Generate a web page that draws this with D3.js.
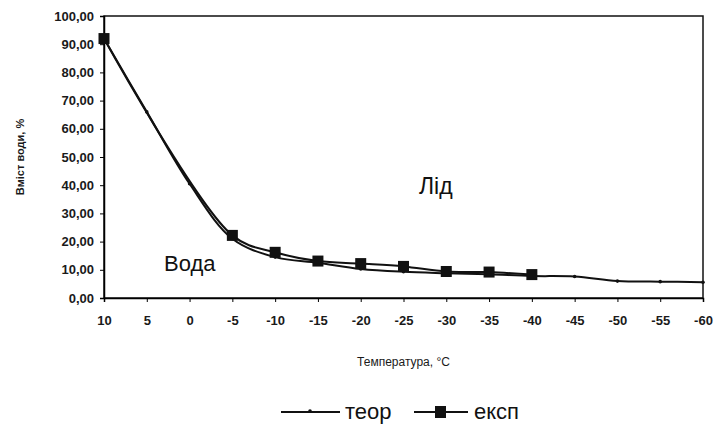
<!DOCTYPE html>
<html lang="uk">
<head>
  <meta charset="UTF-8">
  <title>Вміст води</title>
  <script src="https://d3js.org/d3.v7.min.js"></script>
  <style>
    body { margin: 0; background: #fff; }
    svg { display: block; font-family: "Liberation Sans", Arial, sans-serif; }
  </style>
</head>
<body>
<svg id="chart" width="718" height="430"></svg>
<script>
  // temperature categories on x axis
  const temps = [10, 5, 0, -5, -10, -15, -20, -25, -30, -35, -40, -45, -50, -55, -60];
  // теор (theoretical)
  const teor = [92, 66, 40.5, 21, 14.5, 12.5, 10.3, 9.3, 8.8, 8.4, 7.8, 7.6, 6.0, 5.8, 5.6];
  // експ (experimental), only measured at some temperatures
  const eksp = [92, null, null, 22.2, 16.2, 13.1, 12.2, 11.2, 9.4, 9.2, 8.3, null, null, null, null];
  const yTicks = [0, 10, 20, 30, 40, 50, 60, 70, 80, 90, 100];

  const width = 718, height = 430;
  const margin = {top: 16, right: 15, bottom: 132, left: 104};

  const svg = d3.select("#chart");

  const x = d3.scalePoint()
    .domain(temps)
    .range([margin.left, width - margin.right]);

  const y = d3.scaleLinear()
    .domain([0, 100])
    .range([height - margin.bottom, margin.top]);

  const fmt = d => d3.format(".2f")(d).replace(".", ",");

  // frame
  svg.append("rect")
    .attr("x", margin.left)
    .attr("y", margin.top)
    .attr("width", width - margin.right - margin.left)
    .attr("height", y(0) - margin.top)
    .attr("fill", "none")
    .attr("stroke", "#111")
    .attr("stroke-width", 1.5);

  // Y axis
  const yAxis = svg.append("g")
    .attr("transform", `translate(${margin.left},0)`)
    .call(d3.axisLeft(y).tickValues(yTicks).tickFormat(fmt).tickSize(4).tickPadding(6));
  yAxis.select(".domain").attr("stroke-width", 1.5);
  yAxis.selectAll("text")
    .attr("font-size", 13)
    .attr("font-weight", "bold")
    .attr("fill", "#1a1a1a");

  // X axis
  const xAxis = svg.append("g")
    .attr("transform", `translate(0,${y(0)})`)
    .call(d3.axisBottom(x).tickSize(4).tickPadding(14));
  xAxis.select(".domain").attr("stroke-width", 1.5);
  xAxis.selectAll("text")
    .attr("font-size", 13)
    .attr("font-weight", "bold")
    .attr("fill", "#1a1a1a");

  // axis titles
  svg.append("text")
    .attr("transform", `translate(24,${(margin.top + y(0)) / 2}) rotate(-90)`)
    .attr("text-anchor", "middle")
    .attr("font-size", 11)
    .attr("font-weight", "bold")
    .attr("fill", "#1a1a1a")
    .text("Вміст води, %");

  svg.append("text")
    .attr("x", (margin.left + width - margin.right) / 2)
    .attr("y", 366)
    .attr("text-anchor", "middle")
    .attr("font-size", 12)
    .attr("fill", "#1a1a1a")
    .text("Температура, °С");

  // lines
  const line = d3.line()
    .defined(d => d[1] != null)
    .x(d => x(d[0]))
    .y(d => y(d[1]))
    .curve(d3.curveCatmullRom.alpha(0.5));

  const teorData = temps.map((t, i) => [t, teor[i]]);
  const ekspData = temps.map((t, i) => [t, eksp[i]]).filter(d => d[1] != null);

  svg.append("path")
    .datum(teorData)
    .attr("fill", "none")
    .attr("stroke", "#111")
    .attr("stroke-width", 2)
    .attr("d", line);

  svg.append("path")
    .datum(ekspData)
    .attr("fill", "none")
    .attr("stroke", "#111")
    .attr("stroke-width", 2)
    .attr("d", line);

  // small theoretical markers
  svg.selectAll(".tm")
    .data(teorData)
    .join("circle")
    .attr("class", "tm")
    .attr("cx", d => x(d[0]))
    .attr("cy", d => y(d[1]))
    .attr("r", 1.8)
    .attr("fill", "#111");

  // experimental squares
  const sq = 11;
  svg.selectAll(".em")
    .data(ekspData)
    .join("rect")
    .attr("class", "em")
    .attr("x", d => x(d[0]) - sq / 2)
    .attr("y", d => y(d[1]) - sq / 2)
    .attr("width", sq)
    .attr("height", sq)
    .attr("fill", "#111");

  // region labels
  svg.append("text")
    .attr("x", 164).attr("y", 271)
    .attr("font-size", 22)
    .attr("fill", "#111")
    .text("Вода");

  svg.append("text")
    .attr("x", 419).attr("y", 194)
    .attr("font-size", 23)
    .attr("fill", "#111")
    .text("Лід");

  // legend
  const lg = svg.append("g").attr("transform", "translate(0,412)");
  lg.append("line").attr("x1", 281).attr("x2", 340).attr("y1", 0).attr("y2", 0)
    .attr("stroke", "#111").attr("stroke-width", 2);
  lg.append("circle").attr("cx", 310).attr("cy", -1).attr("r", 1.8).attr("fill", "#111");
  lg.append("text").attr("x", 345).attr("y", 7).attr("font-size", 22).attr("fill", "#111").text("теор");
  lg.append("line").attr("x1", 414).attr("x2", 468).attr("y1", 0).attr("y2", 0)
    .attr("stroke", "#111").attr("stroke-width", 2);
  lg.append("rect").attr("x", 435).attr("y", -6).attr("width", 11).attr("height", 12).attr("fill", "#111");
  lg.append("text").attr("x", 474).attr("y", 7).attr("font-size", 22).attr("fill", "#111").text("експ");
</script>
</body>
</html>
